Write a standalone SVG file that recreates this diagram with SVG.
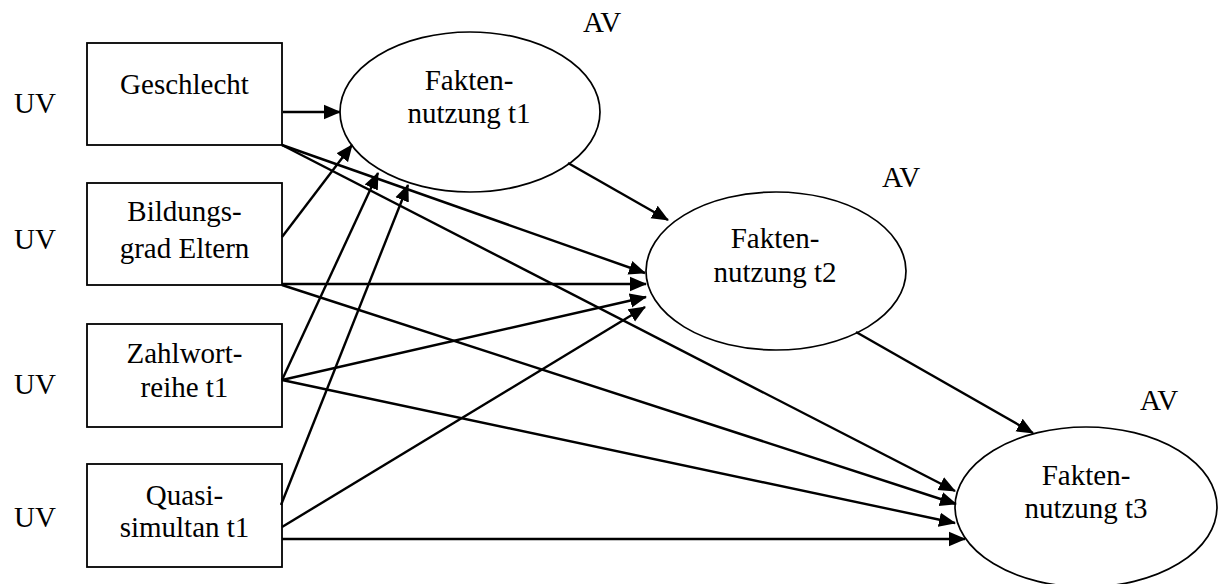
<svg xmlns="http://www.w3.org/2000/svg" width="1219" height="584" viewBox="0 0 1219 584">
<style>
text{font-family:"Liberation Serif",Tinos,"Times New Roman","DejaVu Serif",serif;font-size:29px;fill:#000}
.c{text-anchor:middle}
.box{fill:#fff;stroke:#000;stroke-width:1.8}
.ell{fill:#fff;stroke:#000;stroke-width:1.7}
.con line{stroke:#000;stroke-width:2.4;marker-end:url(#ah)}
</style>
<defs>
<marker id="ah" markerUnits="userSpaceOnUse" markerWidth="18" markerHeight="16" refX="16" refY="8" orient="auto">
<path d="M0,0.8 L17,8 L0,15.2 z" fill="#000"/>
</marker>
</defs>
<rect width="1219" height="584" fill="#fff"/>

<g id="labels" font-family="Liberation Serif, serif">
<text x="14" y="113">UV</text>
<text x="14" y="249">UV</text>
<text x="14" y="394">UV</text>
<text x="14" y="527">UV</text>
<text x="583" y="32">AV</text>
<text x="882" y="187">AV</text>
<text x="1140" y="410">AV</text>
</g>

<g id="geschlecht">
<rect class="box" x="87" y="43" width="195" height="102"/>
<text class="c" x="184.5" y="94">Geschlecht</text>
</g>
<g id="bildungsgrad">
<rect class="box" x="87" y="183" width="195" height="102"/>
<text class="c" x="184.5" y="221">Bildungs-</text>
<text class="c" x="184.5" y="258">grad Eltern</text>
</g>
<g id="zahlwortreihe">
<rect class="box" x="87" y="324" width="195" height="103"/>
<text class="c" x="184.5" y="363">Zahlwort-</text>
<text class="c" x="184.5" y="397">reihe t1</text>
</g>
<g id="quasisimultan">
<rect class="box" x="87" y="464" width="195" height="103"/>
<text class="c" x="184.5" y="505">Quasi-</text>
<text class="c" x="184.5" y="537">simultan t1</text>
</g>

<g id="fakten1">
<ellipse class="ell" cx="470" cy="112" rx="130" ry="80"/>
<text class="c" x="469" y="90">Fakten-</text>
<text class="c" x="469" y="123">nutzung t1</text>
</g>
<g id="fakten2">
<ellipse class="ell" cx="776" cy="271" rx="130" ry="79"/>
<text class="c" x="775" y="248">Fakten-</text>
<text class="c" x="775" y="282">nutzung t2</text>
</g>
<g id="fakten3">
<ellipse class="ell" cx="1086" cy="507" rx="131" ry="80"/>
<text class="c" x="1086" y="485">Fakten-</text>
<text class="c" x="1086" y="518">nutzung t3</text>
</g>

<g id="connectors" class="con">
<line x1="283" y1="112" x2="340" y2="112"/>
<line x1="282" y1="145" x2="645" y2="273"/>
<line x1="282" y1="145" x2="955" y2="491"/>
<line x1="282" y1="237" x2="352" y2="145"/>
<line x1="282" y1="284" x2="646" y2="284"/>
<line x1="282" y1="285" x2="956" y2="504"/>
<line x1="282" y1="380" x2="378" y2="173"/>
<line x1="282" y1="380" x2="646" y2="297"/>
<line x1="282" y1="380" x2="955" y2="523"/>
<line x1="281" y1="505" x2="408" y2="185"/>
<line x1="282" y1="527" x2="645" y2="307"/>
<line x1="282" y1="539" x2="965" y2="539"/>
<line x1="568" y1="163" x2="668" y2="220"/>
<line x1="856" y1="332" x2="1033" y2="433"/>
</g>
</svg>
